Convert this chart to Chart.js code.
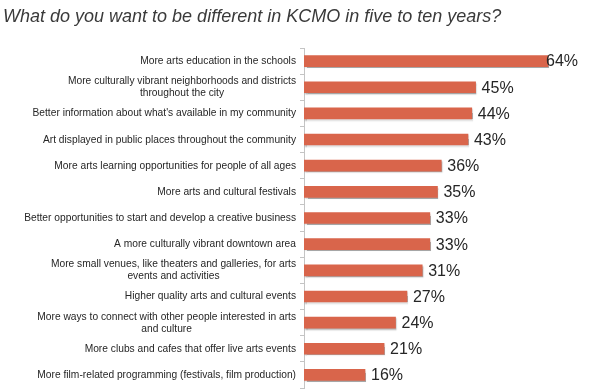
<!DOCTYPE html>
<html>
<head>
<meta charset="utf-8">
<script src="https://cdn.jsdelivr.net/npm/chart.js@4.4.1/dist/chart.umd.min.js"></script>
<style>
  html, body { margin: 0; padding: 0; background: #fff; }
  #wrap { width: 590px; height: 390px; }
</style>
</head>
<body>
<div id="wrap"><canvas id="chart"></canvas></div>
<script>
// survey question
const chartTitle = 'What do you want to be different in KCMO in five to ten years?';

// answers (multi-line where the original wraps)
const categories = [
    ['More arts education in the schools'],
    ['More culturally vibrant neighborhoods and districts', 'throughout the city'],
    ['Better information about what\'s available in my community'],
    ['Art displayed in public places throughout the community'],
    ['More arts learning opportunities for people of all ages'],
    ['More arts and cultural festivals'],
    ['Better opportunities to start and develop a creative business'],
    ['A more culturally vibrant downtown area'],
    ['More small venues, like theaters and galleries, for arts', 'events and activities'],
    ['Higher quality arts and cultural events'],
    ['More ways to connect with other people interested in arts', 'and culture'],
    ['More clubs and cafes that offer live arts events'],
    ['More film-related programming (festivals, film production)']
];

// percent of respondents
const percents = [64, 45, 44, 43, 36, 35, 33, 33, 31, 27, 24, 21, 16];

const barColor = '#d9654b';
const textColor = '#262626';

// title + labels + values drawn by hand
const textPlugin = {
    id: 'textPlugin',
    beforeDatasetDraw(chart) {
        const ctx = chart.ctx;
        ctx.save();
        ctx.shadowColor = 'rgba(0, 0, 0, 0.35)';
        ctx.shadowOffsetX = 1;
        ctx.shadowOffsetY = 1.5;
        ctx.shadowBlur = 1.5;
    },
    afterDatasetDraw(chart) {
        chart.ctx.restore();
    },
    afterDraw(chart) {
        const ctx = chart.ctx;
        const yScale = chart.scales.y;
        const xScale = chart.scales.x;

        ctx.save();
        // title
        ctx.font = 'italic 18px "Liberation Sans", Arial, sans-serif';
        ctx.fillStyle = '#3a3a3a';
        ctx.textAlign = 'left';
        ctx.textBaseline = 'alphabetic';
        ctx.fillText(chartTitle, 3, 22);

        // category labels, lines centred on each other, block right aligned
        // original text is a bit condensed
        const squeeze = 0.93;
        ctx.font = '11px "Liberation Sans", Arial, sans-serif';
        ctx.fillStyle = textColor;
        ctx.textAlign = 'center';
        ctx.textBaseline = 'middle';
        const rightEdge = 296;
        const lineH = 12;
        categories.forEach((lines, i) => {
            const y = yScale.getPixelForTick(i);
            const widest = Math.max(...lines.map(l => ctx.measureText(l).width)) * squeeze;
            const cx = rightEdge - widest / 2;
            const y0 = y - (lines.length - 1) * lineH / 2;
            lines.forEach((l, j) => {
                ctx.save();
                ctx.translate(cx, y0 + j * lineH);
                ctx.scale(squeeze, 1);
                ctx.fillText(l, 0, 0);
                ctx.restore();
            });
        });

        // value labels
        ctx.font = '16px "Liberation Sans", Arial, sans-serif';
        ctx.textAlign = 'left';
        percents.forEach((v, i) => {
            const txt = v + '%';
            const w = ctx.measureText(txt).width;
            let x = xScale.getPixelForValue(v) + 6;
            if (x + w > 578) x = 578 - w;
            ctx.fillText(txt, x, yScale.getPixelForTick(i) + 1);
        });
        ctx.restore();
    }
};

new Chart(document.getElementById('chart'), {
    type: 'bar',
    data: {
        labels: categories,
        datasets: [{
            data: percents,
            backgroundColor: barColor,
            borderWidth: 0,
            barThickness: 11
        }]
    },
    options: {
        indexAxis: 'y',
        responsive: true,
        maintainAspectRatio: false,
        animation: false,
        layout: {
            padding: { left: 300, top: 48, right: 0, bottom: 2 }
        },
        scales: {
            x: {
                display: false,
                min: 0,
                max: 75
            },
            y: {
                ticks: { display: false },
                grid: {
                    display: true,
                    drawOnChartArea: false,
                    drawTicks: true,
                    tickLength: 4,
                    color: '#c4c4c4'
                },
                border: { display: true, color: '#c4c4c4', width: 1 }
            }
        },
        plugins: {
            legend: { display: false },
            tooltip: { enabled: false }
        }
    },
    plugins: [textPlugin]
});
</script>
</body>
</html>
